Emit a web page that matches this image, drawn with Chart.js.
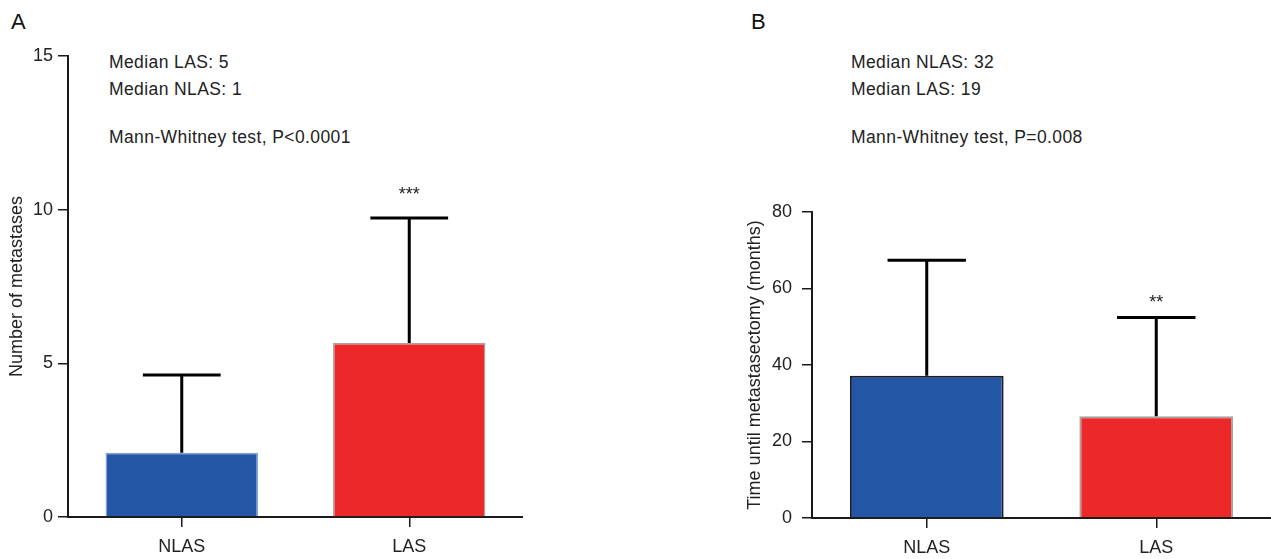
<!DOCTYPE html>
<html>
<head>
<meta charset="utf-8">
<script src="https://cdn.jsdelivr.net/npm/chart.js@4/dist/chart.umd.min.js"></script>
<style>
  body { margin: 0; background: #fff; font-family: "Liberation Sans", Arial, sans-serif; color: #222; }
  #wrap { position: relative; width: 1271px; height: 559px; overflow: hidden; }
  .panel { position: absolute; top: 0; height: 559px; }
  .lbl { position: absolute; font-size: 22px; line-height: 26px; color: #111; }
  .note { position: absolute; font-size: 17.5px; line-height: 20px; white-space: nowrap; letter-spacing: 0.4px; }
</style>
</head>
<body>
<div id="wrap">
  <div class="lbl" style="left:11px; top:9px;">A</div>
  <div class="lbl" style="left:751px; top:9px;">B</div>

  <div class="note" style="left:109px; top:52px;">Median LAS: 5</div>
  <div class="note" style="left:109px; top:79px;">Median NLAS: 1</div>
  <div class="note" style="left:109px; top:127px;">Mann-Whitney test, P&lt;0.0001</div>

  <div class="note" style="left:851px; top:52px;">Median NLAS: 32</div>
  <div class="note" style="left:851px; top:79px;">Median LAS: 19</div>
  <div class="note" style="left:851px; top:127px;">Mann-Whitney test, P=0.008</div>

  <div class="panel" style="left:0; width:523px;"><canvas id="chartA"></canvas></div>
  <div class="panel" style="left:740px; width:531px;"><canvas id="chartB"></canvas></div>
</div>

<script>
// 그룹 이름
const groups = ["NLAS", "LAS"];

// A: 전이 개수 (평균, 표준편차)
const metastasesMean = [2.09, 5.66];
const metastasesSD = [2.53, 4.07];
const metastasesStars = ["", "***"];
const metastasesTicks = [0, 5, 10, 15];

// B: 전이절제술까지 기간 (개월)
const monthsMean = [37.2, 26.6];
const monthsSD = [30.2, 25.8];
const monthsStars = ["", "**"];
const monthsTicks = [0, 20, 40, 60, 80];

const FONT = "'Liberation Sans', Arial, sans-serif";
const INK = "#1a1a1a";

// 막대 위에 위쪽 에러바와 별표를 그린다.
const errorBars = {
  id: "errorBars",
  afterDatasetsDraw(chart, args, opts) {
    const ctx = chart.ctx;
    const y = chart.scales.y;
    const ds = chart.data.datasets[0];
    const meta = chart.getDatasetMeta(0);
    ctx.save();
    ctx.strokeStyle = "#000";
    ctx.lineWidth = 3;
    ctx.fillStyle = "#222";
    ctx.font = "18px " + FONT;
    ctx.textAlign = "center";
    ctx.textBaseline = "alphabetic";
    meta.data.forEach((bar, i) => {
      const top = y.getPixelForValue(ds.data[i] + opts.sd[i]);
      const half = bar.width * 0.255;
      ctx.beginPath();
      ctx.moveTo(bar.x, bar.y);
      ctx.lineTo(bar.x, top);
      ctx.moveTo(bar.x - half, top);
      ctx.lineTo(bar.x + half, top);
      ctx.stroke();
      if (opts.stars[i]) ctx.fillText(opts.stars[i], bar.x, top - opts.starGap);
    });
    ctx.restore();
  },
};

function makeChart(id, cfg) {
  const ctx = document.getElementById(id).getContext("2d");
  return new Chart(ctx, {
    type: "bar",
    data: {
      labels: groups,
      datasets: [
        {
          data: cfg.values,
          backgroundColor: ["#2356a5", "#ec2829"],
          borderColor: cfg.borders,
          borderWidth: cfg.borderWidth,
          barPercentage: 0.67,
          categoryPercentage: 1,
        },
      ],
    },
    options: {
      responsive: true,
      maintainAspectRatio: false,
      animation: false,
      layout: { padding: { top: cfg.top, left: 0, right: 0, bottom: 0 } },
      plugins: {
        legend: { display: false },
        tooltip: { enabled: false },
        errorBars: { sd: cfg.sd, stars: cfg.stars, starGap: cfg.starGap },
      },
      scales: {
        x: {
          afterFit: (s) => { s.height = cfg.xHeight; },
          grid: { offset: false, drawOnChartArea: false, tickLength: 10, color: INK, lineWidth: 1.5 },
          border: { color: INK, width: 2 },
          ticks: { color: "#222", padding: 9, font: { size: 18, family: FONT } },
        },
        y: {
          min: 0,
          max: cfg.ticks[cfg.ticks.length - 1],
          afterFit: (s) => { s.width = cfg.yWidth; },
          afterBuildTicks: (s) => { s.ticks = cfg.ticks.map((v) => ({ value: v })); },
          grid: { drawOnChartArea: false, tickLength: 10, color: INK, lineWidth: 1.5 },
          border: { color: INK, width: 2 },
          ticks: { color: "#222", padding: cfg.tickPad, font: { size: 18, family: FONT } },
          title: {
            display: true,
            text: cfg.title,
            color: "#222",
            padding: { top: cfg.titlePad, bottom: 0 },
            font: { size: 18, family: FONT },
          },
        },
      },
    },
    plugins: [errorBars],
  });
}

makeChart("chartA", {
  values: metastasesMean,
  sd: metastasesSD,
  stars: metastasesStars,
  ticks: metastasesTicks,
  title: "Number of metastases",
  borders: ["#7f9fd5", "#a3a3a3"],
  borderWidth: 1.5,
  starGap: 18,
  top: 56,
  xHeight: 42,
  yWidth: 68,
  tickPad: 5,
  titlePad: 6,
});

makeChart("chartB", {
  values: monthsMean,
  sd: monthsSD,
  stars: monthsStars,
  ticks: monthsTicks,
  title: "Time until metastasectomy (months)",
  borders: ["#1b1d2a", "#a3a3a3"],
  borderWidth: 2,
  starGap: 10,
  top: 212,
  xHeight: 41,
  yWidth: 72,
  tickPad: 10,
  titlePad: 4,
});
</script>
</body>
</html>
